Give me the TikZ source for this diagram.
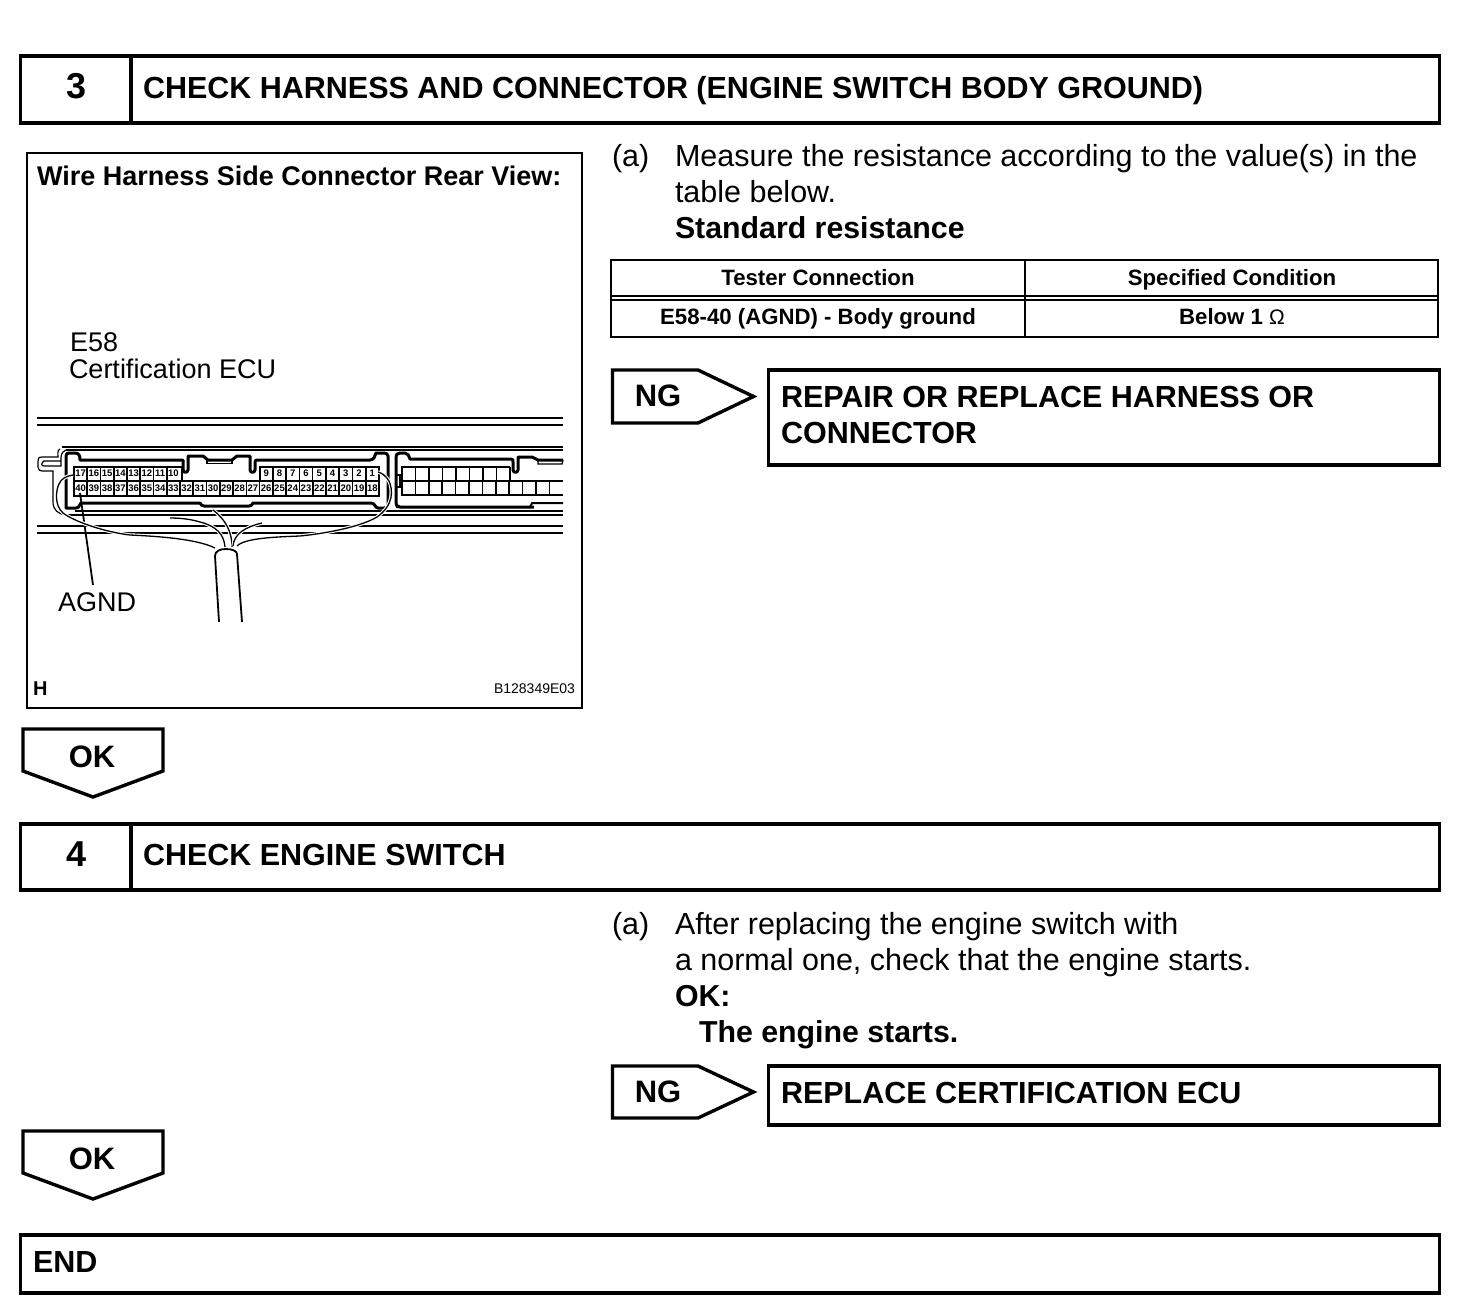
\documentclass[tikz,border=0pt]{standalone}
\usepackage{fontspec}
\setmainfont{Liberation Sans}
\newcommand{\fs}[1]{\fontsize{#1}{#1}\selectfont}
\tikzset{
  x=1pt,y=-1pt,
  every node/.style={inner sep=0pt,outer sep=0pt},
  thickbox/.style={draw=black,line width=3.6pt,fill=white,line join=miter},
  flag/.style={draw=black,line width=3.4pt,fill=white,line join=miter},
  figbox/.style={draw=black,line width=2pt},
  tbl/.style={draw=black,line width=2pt},
  hline/.style={draw=black,line width=2pt},
  thin line/.style={draw=black,line width=1.2pt},
  shell/.style={draw=black,line width=3pt,line join=round},
  cellgrid/.style={draw=black,line width=1.7pt},
  wire/.style={draw=black,line width=1.3pt,preaction={draw=white,line width=3.5pt}},
  title/.style={anchor=base west,font=\fs{30.5}\bfseries},
  num/.style={anchor=base,font=\fs{36}\bfseries},
  body/.style={anchor=base west,font=\fs{30.5}},
  bodyb/.style={anchor=base west,font=\fs{30.3}\bfseries},
  tlabel/.style={anchor=base,font=\fs{22.2}\bfseries},
  figb/.style={anchor=base west,font=\fs{27}\bfseries},
  figr/.style={anchor=base west,font=\fs{27}},
  flaglabel/.style={anchor=base,font=\fs{31}\bfseries},
  pin/.style={anchor=center,font=\fs{9.5}\bfseries},
}
\begin{document}
\begin{tikzpicture}
\useasboundingbox (0,0) rectangle (1472,1314);
\fill[white] (0,0) rectangle (1472,1314);

% step 3 header
\draw[thickbox] (20.5,56) rectangle (1439.5,123);
\draw[thickbox] (131,56) -- (131,123);
\node[num] (n3) at (77,98.5) {3};
\node[title] (t3) at (143,98) {CHECK HARNESS AND CONNECTOR (ENGINE SWITCH BODY GROUND)};

% figure frame
\draw[figbox] (27,153) rectangle (582,708);
\node[figb] (ftitle) at (37,185) {Wire Harness Side Connector Rear View:};
\node[figr] (e58) at (70,351) {E58};
\node[figr] (cert) at (69,378) {Certification ECU};
\node[figr] (agnd) at (58,611) {AGND};
\node[anchor=base west,font=\fs{20}\bfseries] (hh) at (33,695) {H};
\node[anchor=base east,font=\fs{14}] (code) at (575,693) {B128349E03};

% horizontal background lines
\draw[hline] (37,417.5) -- (563,417.5);
\draw[hline] (37,424.7) -- (563,424.7);
\draw[hline] (37,526) -- (563,526);
\draw[hline] (37,532.7) -- (563,532.7);
\draw[hline] (75,510.7) -- (563,510.7);
\draw[hline] (68,515) -- (563,515);
\draw[thin line] (62,447) -- (563,447);
\draw[hline] (66,450) -- (563,450);

% outer left outline of the connector
\draw[thin line,fill=white] (60,449) .. controls (57,450) and (58,455) .. (58,457) -- (42,457)
  .. controls (38,457) and (38,459) .. (38,462) -- (38,467) .. controls (38,470) and (40,471) .. (42,471)
  -- (53,471) -- (53,502) .. controls (53,510) and (58,514) .. (66,515);
\draw[thin line] (66,450) .. controls (61,452) and (61,456) .. (61,460) -- (61,466) -- (44,466)
  .. controls (41,466) and (41,463) .. (44,461) -- (60,461);

% left connector body
\draw[shell,fill=white] (66,508) -- (66,456) .. controls (66,454) and (67,453) .. (69,453) -- (75,453)
  .. controls (79,453) and (80,456) .. (80,460) -- (181,460) -- (183,460) -- (183,470)
  .. controls (183,473) and (188,473) .. (188,470) -- (188,456) -- (203,456) -- (208,460) -- (232,460)
  -- (237,456) -- (250,456) -- (250,470) .. controls (250,473) and (255,473) .. (255,470) -- (255,462)
  .. controls (255,460) and (256,460) .. (258,460) -- (370,460) .. controls (374,460) and (375,456) .. (376,453)
  -- (384,453) .. controls (386,453) and (388,454) .. (388,456) -- (388,505) .. controls (388,507) and (386,508) .. (384,508)
  -- (378,508) .. controls (375,508) and (375,503) .. (371,503) -- (253,503) .. controls (252,505) and (251,506) .. (249,506)
  -- (204,506) .. controls (202,506) and (201,505) .. (200,503) -- (81,503) .. controls (79,504) and (80,508) .. (76,508) -- cycle;
\draw[draw=black,line width=1.2pt] (207,460) rectangle (232,463.5);

% left connector cells
\draw[cellgrid,fill=white] (74,467) -- (182,467) -- (182,481) -- (260,481) -- (260,467) -- (379,467) -- (379,496) -- (74,496) -- cycle;
\draw[cellgrid] (74,481) -- (379,481);
\foreach \i in {1,...,22}{ \draw[cellgrid] ({74+13.26*\i},481) -- ({74+13.26*\i},496); }
\foreach \i in {1,...,7}{ \draw[cellgrid] ({74+13.26*\i},467) -- ({74+13.26*\i},481); }
\foreach \i in {1,...,8}{ \draw[cellgrid] ({259.6+13.26*\i},467) -- ({259.6+13.26*\i},481); }

% pin numbers
\foreach \lab [count=\i from 0] in {17,16,15,14,13,12,11,10}{
  \node[pin] (pt\lab) at ({80.6+13.26*\i},473.5) {\lab};}
\foreach \lab [count=\i from 0] in {9,8,7,6,5,4,3,2,1}{
  \node[pin] (pt\lab) at ({266.2+13.26*\i},473.5) {\lab};}
\foreach \lab [count=\i from 0] in {40,39,38,37,36,35,34,33,32,31,30,29,28,27,26,25,24,23,22,21,20,19,18}{
  \node[pin] (pb\lab) at ({80.6+13.26*\i},488.5) {\lab};}

% right connector body
\draw[shell,fill=white] (563,507) -- (400,507) .. controls (397,507) and (396,505) .. (396,503)
  -- (396,457) .. controls (396,455) and (397,453) .. (400,453) -- (405,453) .. controls (408,453) and (409,456) .. (410,459)
  -- (511,459) .. controls (513,459) and (513,460) .. (513,462) -- (513,470) .. controls (513,473) and (518,473) .. (518,470)
  -- (518,457) -- (532,457) -- (538,460) -- (563,460);
\draw[draw=black,line width=1.2pt] (538,460) -- (538,464) -- (562,464) -- (563,460);
\fill[white] (534,503) rectangle (565,510);
\draw[draw=black,line width=2pt] (396,507) -- (530,507) -- (532,503) -- (563,503);
\draw[draw=black,line width=1.2pt] (396,475) -- (400,475) -- (400,487) -- (396,487);
\draw[cellgrid] (510,467) -- (402,467) -- (402,495) -- (563,495);
\draw[cellgrid] (402,481) -- (563,481);
\foreach \i in {1,...,11}{ \draw[cellgrid] ({402+13.4*\i},481) -- ({402+13.4*\i},495); }
\foreach \i in {1,...,8}{ \draw[cellgrid] ({402+13.5*\i},467) -- ({402+13.5*\i},481); }

% leader and wires
\coordinate (agndtop) at (80,493);
\coordinate (agndbot) at (93,585);
\draw[draw=black,line width=1.8pt] (agndtop) -- (agndbot);
\draw[wire] (215,548) .. controls (195,538) and (150,536) .. (130,535) .. controls (105,532) and (75,522) .. (63,513)
  .. controls (54,505) and (56,490) .. (59,484) .. controls (61,479) and (66,476) .. (73,475);
\draw[wire] (225,547) .. controls (224,534) and (216,526) .. (200,522) .. controls (190,519) and (180,518) .. (170,518);
\draw[wire] (232,547) .. controls (232,532) and (226,520) .. (213,510);
\draw[wire] (233,546) .. controls (234,534) and (245,527) .. (262,523);
\draw[wire] (237,546) .. controls (245,538) and (275,537) .. (300,536) .. controls (330,533) and (362,526) .. (377,517)
  .. controls (394,505) and (393,490) .. (389,481) .. controls (386,476) and (382,473) .. (378,472);

% cable
\draw[draw=black,line width=1.8pt] (219,622) -- (215,556) .. controls (215,551) and (220,549) .. (226,549)
  .. controls (232,549) and (237,551) .. (237,554) -- (242,622);

% step 3 text
\node[body] (a3) at (612,166) {(a)};
\node[body] (a3l1) at (675,166) {Measure the resistance according to the value(s) in the};
\node[body] (a3l2) at (675,202) {table below.};
\node[bodyb] (a3l3) at (675,238) {Standard resistance};

% table
\draw[tbl] (611,260) rectangle (1438,337);
\draw[tbl] (611,295.5) -- (1438,295.5);
\draw[tbl] (611,300) -- (1438,300);
\draw[tbl] (1025,260) -- (1025,337);
\node[tlabel] (th1) at (818,285) {Tester Connection};
\node[tlabel] (th2) at (1232,285) {Specified Condition};
\node[tlabel] (td1) at (818,324) {E58-40 (AGND) - Body ground};
\node[tlabel] (td2) at (1232,324) {Below 1 {\mdseries\fs{21}Ω}};

% NG 1
\draw[flag] (612.5,370) -- (698,370) -- (753.5,396.5) -- (698,423) -- (612.5,423) -- cycle;
\node[flaglabel] (ng1) at (658,406) {NG};
\draw[thickbox] (768.5,370) rectangle (1439.5,465);
\node[title] (r1) at (781,407) {REPAIR OR REPLACE HARNESS OR};
\node[title] (r2) at (781,443) {CONNECTOR};

% OK 1
\draw[flag] (23,729) -- (163,729) -- (163,771) -- (93,797) -- (23,771) -- cycle;
\node[flaglabel] (ok1) at (92,767) {OK};

% step 4 header
\draw[thickbox] (20.5,824) rectangle (1439.5,890);
\draw[thickbox] (131,824) -- (131,890);
\node[num] (n4) at (77,866) {4};
\node[title] (t4) at (143,865) {CHECK ENGINE SWITCH};

% step 4 text
\node[body] (a4) at (612,934) {(a)};
\node[body] (a4l1) at (675,934) {After replacing the engine switch with};
\node[body] (a4l2) at (675,970) {a normal one, check that the engine starts.};
\node[bodyb] (a4l3) at (675,1006) {OK:};
\node[bodyb] (a4l4) at (699,1042) {The engine starts.};

% NG 2
\draw[flag] (612.5,1066) -- (698,1066) -- (753.5,1092) -- (698,1118) -- (612.5,1118) -- cycle;
\node[flaglabel] (ng2) at (658,1102) {NG};
\draw[thickbox] (768.5,1066) rectangle (1439.5,1125);
\node[title] (r3) at (781,1103) {REPLACE CERTIFICATION ECU};

% OK 2
\draw[flag] (23,1131) -- (163,1131) -- (163,1173) -- (93,1199) -- (23,1173) -- cycle;
\node[flaglabel] (ok2) at (92,1169) {OK};

% END
\draw[thickbox] (20.5,1235) rectangle (1439.5,1293);
\node[title] (endt) at (33,1272) {END};
\end{tikzpicture}
\end{document}
